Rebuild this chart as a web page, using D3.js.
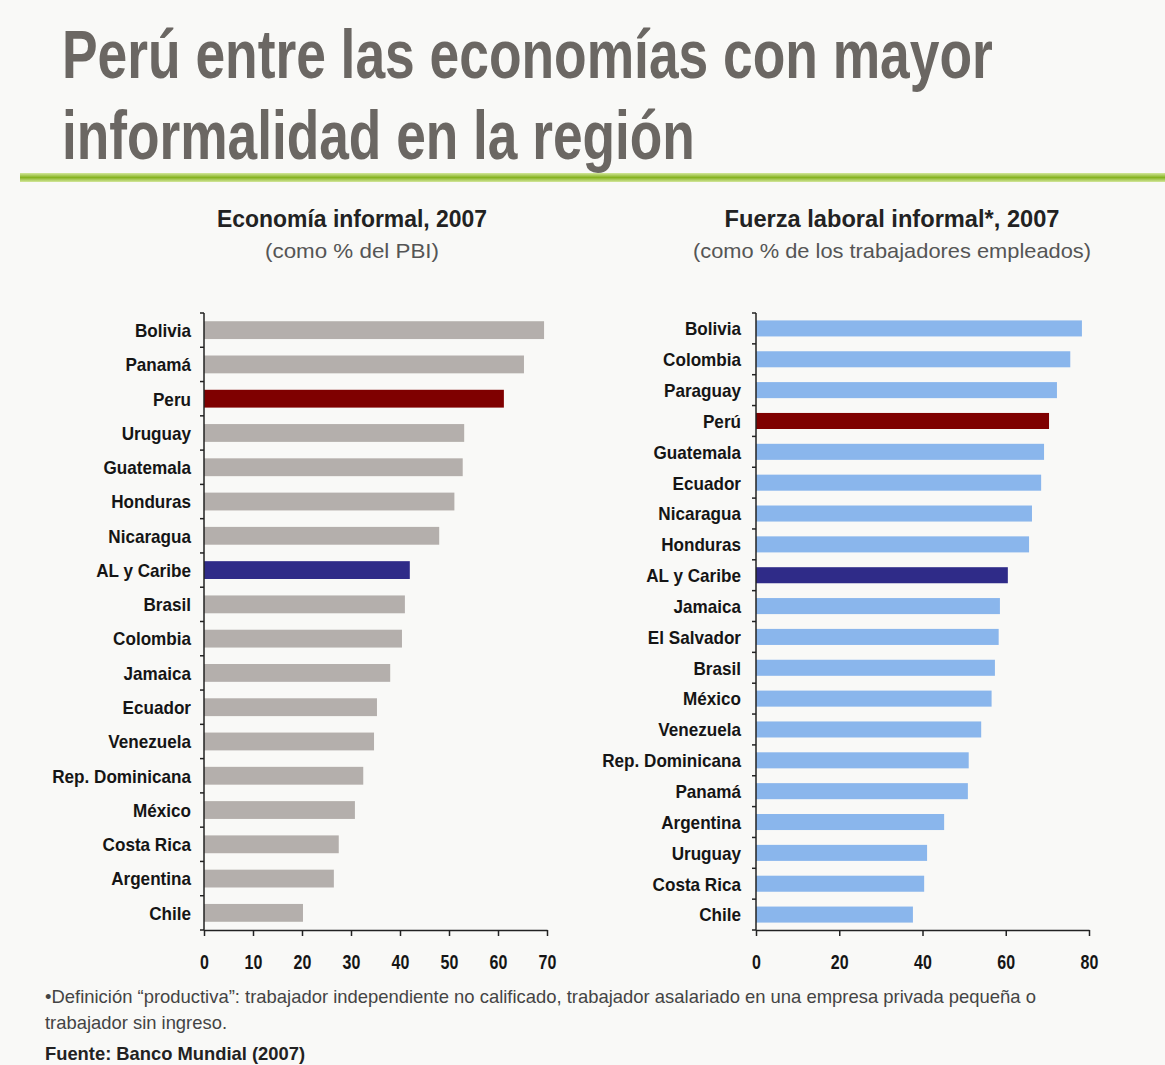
<!DOCTYPE html>
<html lang="es">
<head>
<meta charset="UTF-8">
<script src="https://d3js.org/d3.v7.min.js"></script>
<title>Informalidad</title>
<style>
  body { margin: 0; background: #f9f9f7; }
  text { font-family: "Liberation Sans", Arial, sans-serif; }
</style>
</head>
<body>
<script>
// Economía informal, 2007 (% del PBI)
const paisesPBI = ["Bolivia", "Panamá", "Peru", "Uruguay", "Guatemala", "Honduras", "Nicaragua", "AL y Caribe",
  "Brasil", "Colombia", "Jamaica", "Ecuador", "Venezuela", "Rep. Dominicana", "México", "Costa Rica", "Argentina", "Chile"];
const valoresPBI = [69.4, 65.3, 61.2, 53.1, 52.8, 51.1, 48.0, 42.0, 41.0, 40.4, 38.0, 35.3, 34.7, 32.5, 30.8, 27.5, 26.5, 20.2];
const ticksPBI = [0, 10, 20, 30, 40, 50, 60, 70];

// Fuerza laboral informal, 2007 (% de trabajadores empleados)
const paisesLab = ["Bolivia", "Colombia", "Paraguay", "Perú", "Guatemala", "Ecuador", "Nicaragua", "Honduras", "AL y Caribe",
  "Jamaica", "El Salvador", "Brasil", "México", "Venezuela", "Rep. Dominicana", "Panamá", "Argentina", "Uruguay", "Costa Rica", "Chile"];
const valoresLab = [78.3, 75.5, 72.3, 70.4, 69.2, 68.5, 66.3, 65.6, 60.5, 58.6, 58.3, 57.4, 56.6, 54.1, 51.1, 50.9, 45.2, 41.1, 40.4, 37.7];
const ticksLab = [0, 20, 40, 60, 80];

const width = 1165, height = 1065;
const svg = d3.select("body").append("svg")
  .attr("width", width).attr("height", height);

svg.append("rect").attr("width", width).attr("height", height).attr("fill", "#f9f9f7");

// no hay fuente estrecha instalada: se comprime el texto con textLength
function estrechar(sel, f) {
  sel.each(function () {
    const w = this.getComputedTextLength();
    d3.select(this).attr("textLength", w * f).attr("lengthAdjust", "spacingAndGlyphs");
  });
}
function ancho(sel, w) {
  sel.attr("textLength", w).attr("lengthAdjust", "spacingAndGlyphs");
}

// título (comprimido con scale para que quepa en su ancho)
const titulo = ["Perú entre las economías con mayor", "informalidad en la región"];
const anchosTitulo = [931, 633];
svg.selectAll(".titulo").data(titulo).enter().append("text")
  .attr("x", 0).attr("y", 0)
  .attr("font-size", 69).attr("font-weight", "bold")
  .attr("fill", "#6b6763")
  .text(d => d)
  .each(function (d, i) {
    const sx = anchosTitulo[i] / this.getComputedTextLength();
    d3.select(this).attr("transform", `translate(62,${78 + i * 81}) scale(${sx},1)`);
  });

// línea verde
const grad = svg.append("defs").append("linearGradient")
  .attr("id", "verde").attr("x1", 0).attr("x2", 0).attr("y1", 0).attr("y2", 1);
grad.append("stop").attr("offset", "0%").attr("stop-color", "#d3e79a");
grad.append("stop").attr("offset", "50%").attr("stop-color", "#86b321");
grad.append("stop").attr("offset", "100%").attr("stop-color", "#d3e79a");
svg.append("rect").attr("x", 20).attr("y", 173).attr("width", width - 20).attr("height", 9)
  .attr("fill", "url(#verde)");

function colorBarra(nombre, base) {
  if (nombre === "Peru" || nombre === "Perú") return "#7f0000";
  if (nombre === "AL y Caribe") return "#2f2b88";
  return base;
}

function panel(cfg) {
  const x = d3.scaleLinear().domain(cfg.domain).range([cfg.x0, cfg.x1]);
  const y = d3.scaleBand().domain(cfg.paises).range([cfg.y0, cfg.y1]).paddingInner(cfg.pad).paddingOuter(cfg.pad / 2);
  const g = svg.append("g");

  // encabezados
  g.append("text").attr("x", cfg.tx).attr("y", 227).attr("text-anchor", "middle")
    .attr("font-family", "'Open Sans', sans-serif")
    .attr("font-size", 23).attr("font-weight", "bold").attr("fill", "#222")
    .call(ancho, cfg.anchoTit)
    .text(cfg.titulo);
  g.append("text").attr("x", cfg.tx).attr("y", 258).attr("text-anchor", "middle")
    .attr("font-family", "'Open Sans', sans-serif")
    .attr("font-size", 21).attr("fill", "#555")
    .call(ancho, cfg.anchoSub)
    .text(cfg.sub);

  // barras
  g.selectAll(".barra").data(cfg.paises).enter().append("rect")
    .attr("x", x(0))
    .attr("y", d => y(d))
    .attr("width", (d, i) => x(cfg.valores[i]) - x(0))
    .attr("height", y.bandwidth())
    .attr("fill", d => colorBarra(d, cfg.color));

  // eje y
  const paso = (cfg.y1 - cfg.y0) / cfg.paises.length;
  const yTicks = d3.range(cfg.paises.length + 1).map(i => cfg.y0 + i * paso);
  g.append("line").attr("x1", x(0)).attr("x2", x(0)).attr("y1", cfg.y0).attr("y2", cfg.y1)
    .attr("stroke", "#222").attr("stroke-width", 1.5);
  g.selectAll(".ty").data(yTicks).enter().append("line")
    .attr("x1", x(0) - 4).attr("x2", x(0)).attr("y1", d => d).attr("y2", d => d)
    .attr("stroke", "#222").attr("stroke-width", 1.5);
  g.selectAll(".lab").data(cfg.paises).enter().append("text")
    .attr("x", x(0) - cfg.gap)
    .attr("y", d => y(d) + y.bandwidth() / 2)
    .attr("dy", "0.36em")
    .attr("text-anchor", "end")
    .attr("font-size", 19).attr("font-weight", "bold").attr("fill", "#151515")
    .text(d => d)
    .call(estrechar, 0.9);

  // eje x
  const ax = g.append("g").attr("transform", `translate(0,${cfg.y1})`)
    .call(d3.axisBottom(x).tickValues(cfg.ticks).tickSize(6).tickSizeOuter(0).tickPadding(19));
  ax.select(".domain").attr("stroke", "#222").attr("stroke-width", 1.5);
  ax.selectAll(".tick line").attr("stroke", "#222").attr("stroke-width", 1.5);
  ax.selectAll(".tick text")
    .attr("font-family", "'Liberation Sans', Arial, sans-serif")
    .attr("font-size", 20).attr("font-weight", "bold").attr("fill", "#151515")
    .call(estrechar, 0.8);
}

panel({
  paises: paisesPBI, valores: valoresPBI, ticks: ticksPBI, domain: [0, 70],
  x0: 204, x1: 547, y0: 313, y1: 930, pad: 0.48, gap: 13,
  color: "#b4afac", tx: 352, anchoTit: 270, anchoSub: 174,
  titulo: "Economía informal, 2007", sub: "(como % del PBI)"
});

panel({
  paises: paisesLab, valores: valoresLab, ticks: ticksLab, domain: [0, 80],
  x0: 756, x1: 1089, y0: 313, y1: 930, pad: 0.48, gap: 15,
  color: "#8ab6ec", tx: 892, anchoTit: 335, anchoSub: 398,
  titulo: "Fuerza laboral informal*, 2007", sub: "(como % de los trabajadores empleados)"
});

// notas
const notas = [
  "•Definición “productiva”: trabajador independiente no calificado, trabajador asalariado en una empresa privada pequeña o",
  "trabajador sin ingreso."
];
const anchosNotas = [991, 182];
svg.selectAll(".nota").data(notas).enter().append("text")
  .attr("x", 45).attr("y", (d, i) => 1003 + i * 26)
  .attr("font-size", 19).attr("fill", "#444")
  .attr("textLength", (d, i) => anchosNotas[i]).attr("lengthAdjust", "spacingAndGlyphs")
  .text(d => d);
svg.append("text").attr("x", 45).attr("y", 1060)
  .attr("font-size", 19).attr("font-weight", "bold").attr("fill", "#222")
  .call(ancho, 260)
  .text("Fuente: Banco Mundial (2007)");
</script>
</body>
</html>
